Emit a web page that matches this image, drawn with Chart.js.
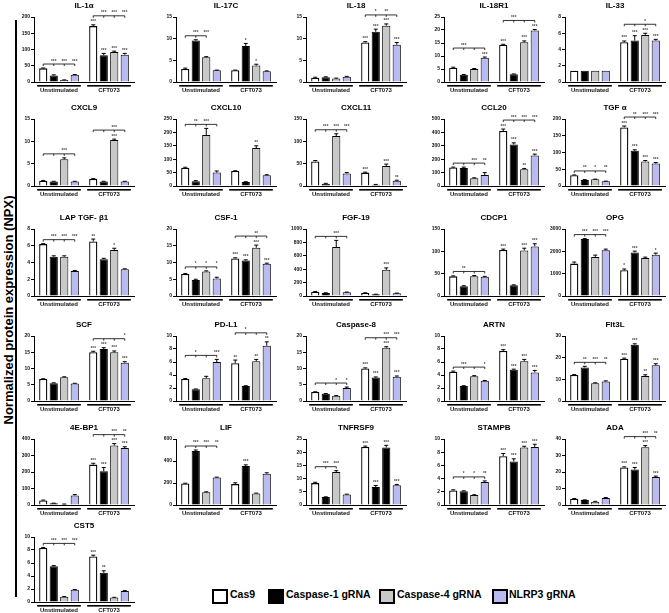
<!DOCTYPE html>
<html>
<head>
<meta charset="utf-8">
<script src="https://cdn.jsdelivr.net/npm/chart.js@4.4.1/dist/chart.umd.min.js"></script>
<style>
  body { margin: 0; width: 669px; height: 613px; overflow: hidden; background: #fff; position: relative; font-family: "Liberation Sans", Arial, sans-serif; }
  canvas { position: absolute; }
  #ylabel { position: absolute; left: 8px; top: 310px; transform: translate(-50%, -50%) rotate(-90deg); font-weight: bold; font-size: 13px; white-space: nowrap; }
  #yline { position: absolute; left: 15px; top: 20px; width: 2px; height: 577px; background: #000; }
  .box { position: absolute; top: 589px; width: 12px; height: 11px; border: 2px solid #000; }
  .lt { position: absolute; top: 588px; font-weight: bold; font-size: 10.5px; white-space: nowrap; }
</style>
</head>
<body>
<div id="ylabel">Normalized protein expression (NPX)</div>
<div id="yline"></div>
<div class="box" style="left:212px;background:#fff"></div><div class="lt" style="left:230px">Cas9</div>
<div class="box" style="left:268px;background:#000"></div><div class="lt" style="left:286px">Caspase-1 gRNA</div>
<div class="box" style="left:379px;background:#c8c8c8"></div><div class="lt" style="left:397px">Caspase-4 gRNA</div>
<div class="box" style="left:492px;background:#babaf2"></div><div class="lt" style="left:509px">NLRP3 gRNA</div>
<script>
// panel names, row by row
const titles = ["IL-1α", "IL-17C", "IL-18", "IL-18R1", "IL-33",
  "CXCL9", "CXCL10", "CXCL11", "CCL20", "TGF α",
  "LAP TGF- β1", "CSF-1", "FGF-19", "CDCP1", "OPG",
  "SCF", "PD-L1", "Caspase-8", "ARTN", "Flt3L",
  "4E-BP1", "LIF", "TNFRSF9", "STAMPB", "ADA",
  "CST5"];
const groups = ["Unstimulated", "CFT073"];
const seriesNames = ["Cas9", "Caspase-1 gRNA", "Caspase-4 gRNA", "NLRP3 gRNA"];

// y axis top and tick step for each panel
const yMax = [200, 15, 15, 25, 8, 15, 250, 150, 500, 200, 8, 20, 1000, 150, 3000, 20, 10, 20, 10, 30, 400, 600, 25, 10, 40, 10];
const yStep = [50, 5, 5, 5, 2, 5, 50, 50, 100, 50, 2, 5, 200, 50, 1000, 5, 2, 5, 2, 10, 100, 200, 5, 2, 10, 2];

// values per panel: [Unstimulated, CFT073]
const cas9 = [[42, 172], [3.0, 2.7], [1.0, 9.1], [5.5, 14.3], [1.4, 4.9],
  [1.2, 1.6], [68, 56], [55, 30], [138, 410], [32, 175],
  [6.2, 6.5], [6.6, 11.2], [65, 45], [44, 103], [1450, 1150],
  [6.8, 15.0], [3.4, 5.8], [2.8, 10.0], [4.5, 7.7], [12, 19.5],
  [28, 245], [195, 190], [8.3, 22], [2.2, 7.4], [3.8, 22.8],
  [8.3, 7.0]];
const casp1 = [[20, 82], [9.6, 8.3], [1.1, 11.6], [2.8, 3.0], [1.4, 5.1],
  [1.0, 1.0], [18, 15], [5, 3], [135, 310], [18, 105],
  [4.7, 4.4], [4.8, 10.6], [45, 25], [22, 24], [2550, 1950],
  [5.5, 16.0], [1.8, 2.3], [2.2, 7.2], [2.3, 4.8], [15.5, 26],
  [10, 205], [490, 355], [3.0, 6.8], [2.1, 6.6], [3.0, 21.5],
  [5.5, 4.5]];
const casp4 = [[6, 92], [5.7, 3.8], [0.8, 13.0], [5.0, 15.3], [1.4, 5.8],
  [6.0, 10.3], [190, 142], [112, 45], [57, 125], [20, 73],
  [4.7, 5.5], [7.3, 14.4], [730, 390], [44, 102], [1750, 1700],
  [7.3, 15.0], [3.5, 6.1], [1.6, 16.4], [3.8, 6.1], [8.2, 11.5],
  [5, 360], [115, 105], [12.5, 21.8], [1.5, 8.7], [2.0, 35],
  [0.8, 0.7]];
const nlrp3 = [[22, 84], [2.7, 2.5], [1.2, 8.6], [9.3, 19.8], [1.4, 5.1],
  [1.0, 1.0], [50, 40], [28, 12], [82, 228], [14, 67],
  [3.0, 3.2], [5.2, 9.6], [55, 40], [43, 111], [2050, 1850],
  [5.4, 11.8], [6.0, 8.5], [4.0, 7.5], [3.1, 4.4], [9.0, 16.5],
  [58, 345], [250, 285], [4.0, 7.5], [3.5, 8.8], [4.2, 17],
  [1.9, 1.7]];

// upper error (SEM) per bar
const cas9Err = [[1, 4], [0.2, 0.05], [0.1, 0.2], [0.2, 0.2], [0, 0.15],
  [0.05, 0.05], [2, 1], [2, 1], [3, 15], [1, 4],
  [0.05, 0.3], [0.1, 0.2], [3, 3], [1, 2], [70, 60],
  [0.05, 0.3], [0.05, 0.5], [0.05, 0.2], [0.1, 0.2], [0.2, 0.3],
  [2, 8], [3, 12], [0.3, 0.3], [0.1, 0.4], [0.1, 0.3],
  [0.1, 0.2]];
const casp1Err = [[2, 6], [0.15, 0.6], [0.1, 0.6], [0.1, 0.1], [0, 0.6],
  [0.05, 0.05], [2, 1], [1, 0.5], [6, 12], [1, 3],
  [0.1, 0.1], [0.2, 0.2], [3, 2], [1, 1], [20, 60],
  [0.1, 0.4], [0.05, 0.05], [0.1, 0.2], [0.05, 0.1], [0.5, 0.4],
  [1, 22], [10, 10], [0.1, 0.6], [0.05, 0.4], [0.1, 1.2],
  [0.1, 0.3]];
const casp4Err = [[0.5, 3], [0.15, 0.3], [0.1, 0.4], [0.2, 0.5], [0, 0.2],
  [0.3, 0.2], [25, 8], [5, 4], [4, 6], [0.5, 3],
  [0.1, 0.2], [0.2, 0.8], [100, 30], [2, 5], [80, 40],
  [0.15, 0.4], [0.3, 0.3], [0.05, 0.3], [0.1, 0.3], [0.2, 0.6],
  [1, 12], [5, 3], [0.5, 0.8], [0.05, 0.2], [0.2, 1.0],
  [0.05, 0.02]];
const nlrp3Err = [[1, 4], [0.05, 0.05], [0.1, 0.5], [0.3, 0.4], [0, 0.15],
  [0.05, 0.05], [6, 2], [2, 1], [18, 10], [0.5, 3],
  [0.05, 0.05], [0.4, 0.2], [4, 3], [1, 6], [50, 70],
  [0.05, 0.3], [0.4, 0.6], [0.3, 0.2], [0.05, 0.3], [0.3, 0.7],
  [5, 8], [3, 8], [0.1, 0.3], [0.15, 0.4], [0.3, 0.5],
  [0.02, 0.05]];

// stars over single bars: unstim 4 bars, then CFT073 4 bars
const A = "***";
const barStars = [
  ["", "", "", "", A, A, A, A],
  ["", "", "", "", "", "*", "*", ""],
  ["", "", "", "", A, A, A, A],
  ["", "", "", A, A, "", A, A],
  ["", "", "", "", A, A, A, A],
  ["", "", "", "", "", "", A, ""],
  ["", "", "", "", "", "", "**", ""],
  ["", "", "", "", A, "", A, "**"],
  ["", "", "", "", A, A, "**", A],
  ["", "", "", "", A, A, A, A],
  ["", "", "", "", "**", "", "*", ""],
  ["", "", "", "", A, A, A, A],
  ["", "", "", "", "", "", A, ""],
  ["", "", "", "", A, "", A, A],
  ["", "", "", "", "*", A, "", "*"],
  ["", "", "", "", A, A, A, A],
  ["", "", "", "", "**", "", "**", "**"],
  ["", "", "", "", A, A, A, A],
  ["", "", "", "", A, A, A, A],
  ["", "", "", "", A, A, "**", A],
  ["", "", "", "", A, A, A, A],
  ["", "", "", "", "", A, "", ""],
  ["", "", "", "", A, A, A, A],
  ["", "", "", "", A, A, A, A],
  ["", "", "", "", A, A, A, A],
  ["", "", "", "", A, "**", "", ""]
];

// comparison brackets from Cas9: [group, labels over bar 2..n]
const brackets = [
  [[0, [A, A, A]], [1, [A, A, A]]],
  [[0, [A, A]]],
  [[1, ["*", "**", ""]]],
  [[0, [A, "", ""]], [1, [A, "", ""]]],
  [[1, ["", "*", ""]]],
  [[0, ["", A, ""]], [1, ["", A, ""]]],
  [[0, ["**", A, ""]]],
  [[0, [A, A, A]]],
  [[0, ["", A, "**"]], [1, [A, A, A]]],
  [[0, ["**", "*", "**"]], [1, ["**", A, A]]],
  [[0, [A, A, A]]],
  [[0, ["*", "*", "*"]], [1, ["", "**", ""]]],
  [[0, ["", A, ""]]],
  [[0, ["**", "", ""]]],
  [[0, [A, A, A]]],
  [[1, ["", "", "*"]]],
  [[0, ["*", "", A]], [1, ["*", "", ""]]],
  [[0, ["", "*", "*"]], [1, ["", A, A]]],
  [[0, [A, "", "*"]]],
  [[0, ["**", A, "**"]]],
  [[1, ["", A, "**"]]],
  [[0, [A, A, "**"]]],
  [[0, [A, A]]],
  [[0, ["*", "*", "**"]]],
  [[1, ["", A, "**"]]],
  [[0, [A, A, A]]]
];

// bars printed black in the original figure: [panel, series, group]
const blackBars = [[22, 2, 1]];

const F = "'Liberation Sans', Arial, sans-serif";
const fills = ["#ffffff", "#000000", "#c8c8c8", "#babaf2"];
const seriesData = [cas9, casp1, casp4, nlrp3];
const seriesErr = [cas9Err, casp1Err, casp4Err, nlrp3Err];

// error bars, stars, brackets, group underline and panel title
const marks = {
  id: "marks",
  afterDatasetsDraw(chart, args, opts) {
    const ctx = chart.ctx, ys = chart.scales.y, area = chart.chartArea;
    ctx.save();
    ctx.fillStyle = "#000";
    [0, 1].forEach((g) => {
      const a = chart.getDatasetMeta(0).data[g], b = chart.getDatasetMeta(3).data[g];
      const x0 = a.x - a.width / 2 - 2, x1 = b.x + b.width / 2 + 2;
      ctx.fillRect(x0, area.bottom + 3, x1 - x0, 1.6);
    });

    const tops = [[], []];
    ctx.strokeStyle = "#000";
    ctx.lineWidth = 1;
    chart.data.datasets.forEach((ds, d) => {
      chart.getDatasetMeta(d).data.forEach((el, g) => {
        const e = ds.errs[g];
        const yTop = ys.getPixelForValue(ds.data[g] + e);
        if (e > 0) {
          ctx.beginPath();
          ctx.moveTo(el.x, el.y);
          ctx.lineTo(el.x, yTop);
          ctx.moveTo(el.x - 2, yTop);
          ctx.lineTo(el.x + 2, yTop);
          ctx.stroke();
        }
        let top = Math.min(yTop, el.y);
        const s = opts.stars[g * 4 + d];
        if (s) {
          ctx.font = "bold 4.5px " + F;
          ctx.fillStyle = "#444";
          ctx.textAlign = "center";
          ctx.textBaseline = "bottom";
          ctx.fillText(s, el.x, top - 0.5);
          top -= 5;
        }
        tops[g][d] = { x: el.x, top: top };
      });
    });

    opts.brackets.forEach(([g, labels]) => {
      const pts = tops[g].slice(0, labels.length + 1);
      const yb = Math.min(...pts.map((p) => p.top)) - 4;
      ctx.strokeStyle = "#000";
      ctx.lineWidth = 0.8;
      ctx.beginPath();
      ctx.moveTo(pts[0].x, yb);
      ctx.lineTo(pts[pts.length - 1].x, yb);
      pts.forEach((p) => {
        ctx.moveTo(p.x, yb);
        ctx.lineTo(p.x, yb + 2);
      });
      ctx.stroke();
      ctx.font = "bold 4.5px " + F;
      ctx.fillStyle = "#444";
      ctx.textAlign = "center";
      ctx.textBaseline = "bottom";
      labels.forEach((l, k) => {
        if (l) ctx.fillText(l, pts[k + 1].x, yb - 0.5);
      });
    });

    ctx.font = "bold 8px " + F;
    ctx.fillStyle = "#000";
    ctx.textAlign = "center";
    ctx.textBaseline = "middle";
    ctx.fillText(opts.title, (area.left + area.right) / 2, area.top - 11);
    ctx.restore();
  }
};

const colX = [34, 176, 306, 444, 565];
const rowTop = [17, 119, 229, 336, 439, 537];
const rowH = [65, 67, 67, 65, 66, 65];
const AXW = 30, TOPPAD = 16, XAXH = 14, PLOTW = 100;

titles.forEach((t, i) => {
  const r = Math.floor(i / 5), c = i % 5;
  const w = AXW + PLOTW + 4, h = TOPPAD + rowH[r] + XAXH;
  const cv = document.createElement("canvas");
  cv.width = w;
  cv.height = h;
  cv.style.left = (colX[c] - AXW) + "px";
  cv.style.top = (rowTop[r] - TOPPAD) + "px";
  cv.style.width = w + "px";
  cv.style.height = h + "px";
  document.body.appendChild(cv);

  new Chart(cv, {
    type: "bar",
    data: {
      labels: groups,
      datasets: seriesData.map((s, d) => ({
        label: seriesNames[d],
        data: s[i],
        errs: seriesErr[d][i],
        backgroundColor: [0, 1].map((g) =>
          blackBars.some((b) => b[0] === i && b[1] === d && b[2] === g) ? "#000000" : fills[d]),
        borderColor: "#000",
        borderWidth: d === 0 ? 1.3 : 1,
        categoryPercentage: 0.84,
        barPercentage: 0.78
      }))
    },
    options: {
      responsive: false,
      animation: false,
      devicePixelRatio: 1,
      layout: { padding: { top: TOPPAD, right: 4, left: 0, bottom: 0 } },
      plugins: {
        legend: { display: false },
        tooltip: { enabled: false },
        marks: { title: t, stars: barStars[i], brackets: brackets[i] }
      },
      scales: {
        x: {
          grid: { display: false, drawTicks: false },
          border: { color: "#000", width: 1 },
          ticks: { font: { size: 6, weight: "bold", family: F }, color: "#111", padding: 5, maxRotation: 0, autoSkip: false },
          afterFit: (s) => { s.height = XAXH; }
        },
        y: {
          min: 0,
          max: yMax[i],
          grid: { drawOnChartArea: false, tickLength: 3, color: "#000" },
          border: { color: "#000", width: 1 },
          ticks: { stepSize: yStep[i], font: { size: 5, weight: "bold", family: F }, color: "#111", padding: 1,
            callback: (v) => String(v) },
          afterFit: (s) => { s.width = AXW; }
        }
      }
    },
    plugins: [marks]
  });
});
</script>
</body>
</html>
